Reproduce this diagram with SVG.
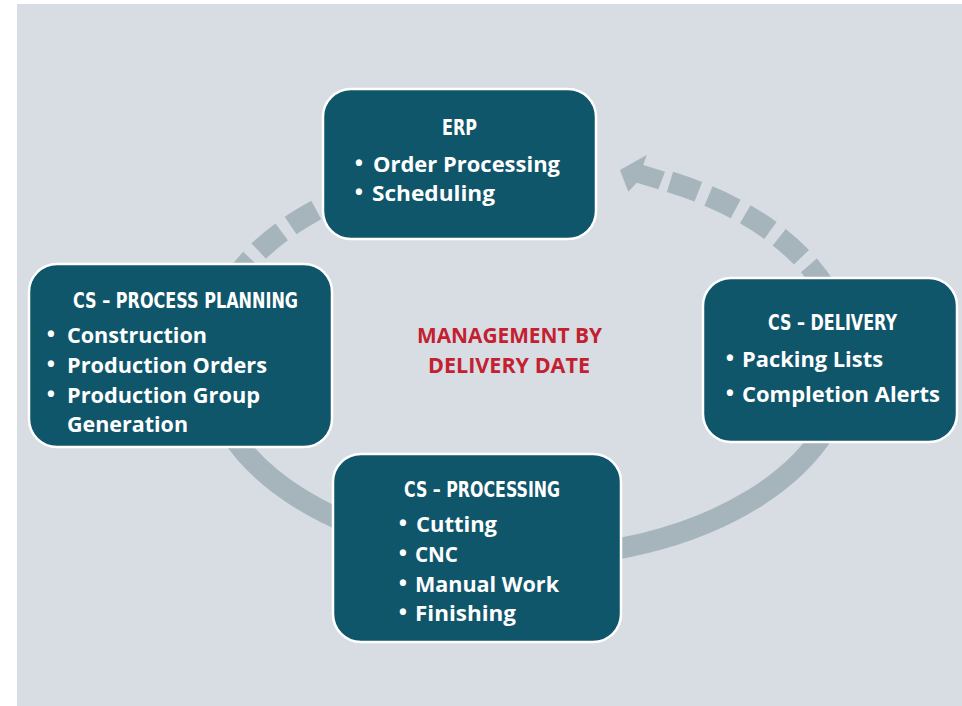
<svg xmlns="http://www.w3.org/2000/svg" width="962" height="706" viewBox="0 0 962 706">
<style>
.box{fill:#10566b;stroke:#ffffff;stroke-width:2.5}
.ttl{font-family:"Liberation Sans Narrow","DejaVu Sans Condensed","Roboto Condensed","Open Sans",sans-serif;font-stretch:condensed;font-weight:bold;font-size:22px;fill:#ffffff;text-anchor:middle}
.itm{font-family:"Open Sans","Noto Sans","DejaVu Sans",sans-serif;font-weight:bold;font-size:22px;fill:#ffffff}
.bul{font-family:"Open Sans","Noto Sans","DejaVu Sans",sans-serif;font-weight:bold;font-size:22px;fill:#ffffff;text-anchor:middle}
.ctr{font-family:"Open Sans","Noto Sans","DejaVu Sans",sans-serif;font-weight:bold;font-size:21px;fill:#c32030;text-anchor:middle}
.ring{fill:none;stroke:#a6b5bc;stroke-width:21}
.dash{stroke-dasharray:30 11}
</style>
<rect x="0" y="0" width="962" height="706" fill="#ffffff"/>
<rect x="17" y="4" width="945" height="702" fill="#d8dce3"/>
<g id="connectors">
<path class="ring" d="M207 359 A320 198 0 0 0 847 359"/>
<path class="ring dash" d="M207 359 A320 198 0 0 1 527 161"/>
<path class="ring dash" d="M670 181.9 A320 198 0 0 1 847 359"/>
<polygon fill="#a6b5bc" points="620,170 646.7,155 643.3,165 665,171.7 658.3,189.3 636.7,182.7 628.3,191.7"/>
</g>
<g id="erp">
<rect class="box" x="323" y="89" width="273" height="150" rx="28"/>
<text class="ttl" x="459.5" y="135" textLength="35" lengthAdjust="spacingAndGlyphs">ERP</text>
<text class="bul" x="359" y="171">•</text>
<text class="itm" x="373" y="172" textLength="187" lengthAdjust="spacingAndGlyphs">Order Processing</text>
<text class="bul" x="359" y="200">•</text>
<text class="itm" x="372" y="201" textLength="123" lengthAdjust="spacingAndGlyphs">Scheduling</text>
</g>
<g id="planning">
<rect class="box" x="29" y="264" width="303" height="183" rx="28"/>
<text class="ttl" x="185.5" y="308" textLength="225" lengthAdjust="spacingAndGlyphs">CS – PROCESS PLANNING</text>
<text class="bul" x="51" y="342">•</text>
<text class="itm" x="67" y="343" textLength="140" lengthAdjust="spacingAndGlyphs">Construction</text>
<text class="bul" x="51" y="372">•</text>
<text class="itm" x="67" y="373" textLength="200" lengthAdjust="spacingAndGlyphs">Production Orders</text>
<text class="bul" x="51" y="402">•</text>
<text class="itm" x="67" y="403" textLength="193" lengthAdjust="spacingAndGlyphs">Production Group</text>
<text class="itm" x="67" y="432" textLength="121" lengthAdjust="spacingAndGlyphs">Generation</text>
</g>
<g id="delivery">
<rect class="box" x="703" y="278" width="254" height="164" rx="28"/>
<text class="ttl" x="832.5" y="330" textLength="129" lengthAdjust="spacingAndGlyphs">CS – DELIVERY</text>
<text class="bul" x="730" y="366">•</text>
<text class="itm" x="742" y="367" textLength="141" lengthAdjust="spacingAndGlyphs">Packing Lists</text>
<text class="bul" x="730" y="401">•</text>
<text class="itm" x="742" y="402" textLength="198" lengthAdjust="spacingAndGlyphs">Completion Alerts</text>
</g>
<g id="processing">
<rect class="box" x="333" y="454" width="288" height="188" rx="28"/>
<text class="ttl" x="482" y="497" textLength="156" lengthAdjust="spacingAndGlyphs">CS – PROCESSING</text>
<text class="bul" x="403" y="531">•</text>
<text class="itm" x="416" y="532" textLength="81" lengthAdjust="spacingAndGlyphs">Cutting</text>
<text class="bul" x="403" y="561">•</text>
<text class="itm" x="415" y="562" textLength="43" lengthAdjust="spacingAndGlyphs">CNC</text>
<text class="bul" x="403" y="591">•</text>
<text class="itm" x="415" y="592" textLength="144" lengthAdjust="spacingAndGlyphs">Manual Work</text>
<text class="bul" x="403" y="620">•</text>
<text class="itm" x="415" y="621" textLength="101" lengthAdjust="spacingAndGlyphs">Finishing</text>
</g>
<g id="center-label">
<text class="ctr" x="509.5" y="343" textLength="185" lengthAdjust="spacingAndGlyphs">MANAGEMENT BY</text>
<text class="ctr" x="509" y="373" textLength="162" lengthAdjust="spacingAndGlyphs">DELIVERY DATE</text>
</g>
</svg>
